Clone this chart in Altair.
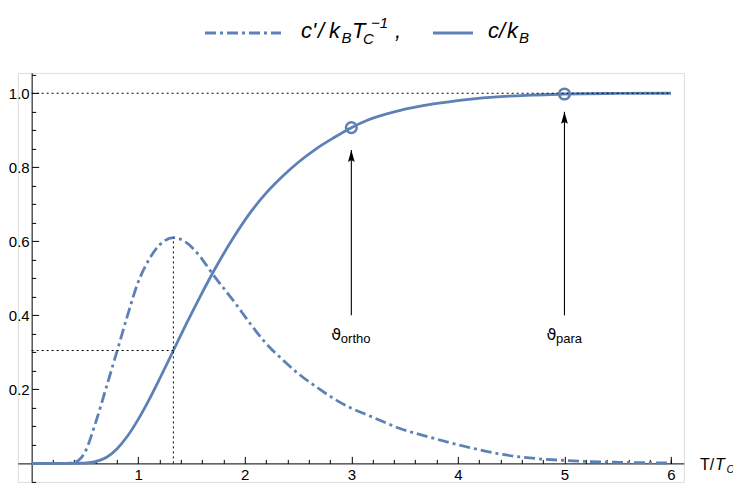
import altair as alt
import pandas as pd

# ---------------- data ----------------
T_SOLID = [0.0, 0.3, 0.45, 0.5, 0.6, 0.7, 0.8, 0.9, 1.0, 1.1, 1.2, 1.33, 1.45, 1.58, 1.7,
           1.9, 2.05, 2.2, 2.36, 2.5, 2.67, 2.83, 3.0, 3.15, 3.45, 3.77, 4.08, 4.4, 4.7,
           5.0, 5.5, 6.0]
C_SOLID = [0.0, 0.0, 0.0005, 0.001, 0.005, 0.016, 0.039, 0.074, 0.119, 0.171, 0.228, 0.305,
           0.376, 0.450, 0.515, 0.613, 0.677, 0.730, 0.777, 0.813, 0.850, 0.879, 0.907,
           0.927, 0.953, 0.971, 0.983, 0.991, 0.995, 0.998, 0.9995, 1.0]

T_DASH = [0.0, 0.3, 0.4, 0.5, 0.6, 0.7, 0.8, 0.9, 1.0, 1.1, 1.2, 1.33, 1.45, 1.58, 1.69,
          1.9, 2.05, 2.2, 2.36, 2.5, 2.67, 2.83, 3.0, 3.15, 3.45, 3.77, 4.08, 4.4, 4.7,
          5.0, 5.5, 6.0]
C_DASH = [0.0, 0.0, 0.003, 0.03, 0.11, 0.205, 0.302, 0.40, 0.49, 0.55, 0.59, 0.61, 0.597,
          0.559, 0.515, 0.437, 0.378, 0.324, 0.279, 0.243, 0.207, 0.176, 0.149, 0.131,
          0.095, 0.068, 0.045, 0.025, 0.014, 0.008, 0.003, 0.001]

X_MAJOR = [1, 2, 3, 4, 5, 6]
X_MINOR = [0.2, 0.4, 0.6, 0.8, 1.2, 1.4, 1.6, 1.8, 2.2, 2.4, 2.6, 2.8, 3.2, 3.4, 3.6, 3.8,
           4.2, 4.4, 4.6, 4.8, 5.2, 5.4, 5.6, 5.8, 6.0]
Y_MAJOR = [0.2, 0.4, 0.6, 0.8, 1.0]
Y_MINOR = [-0.05, 0.05, 0.1, 0.15, 0.25, 0.3, 0.35, 0.45, 0.5, 0.55, 0.65, 0.7, 0.75,
           0.85, 0.9, 0.95, 1.05]

PEAK_T = 1.33
PEAK_C = 0.61
HALF_C = 0.305
LIMIT_C = 1.0
T_END = 6.0

MARK_T = [3, 5]
MARK_C = [0.907, 0.998]
ARROW_BOTTOM = [0.40, 0.40]
ARROW_TIP = [0.847, 0.95]
LABEL_NAMES = ["ortho", "para"]
LABEL_V = 0.334

# ---------------- layout ----------------
BLUE = "#5E81B5"
FONT = "Liberation Sans"
X_DOM = [-0.13, 6.12]
Y_DOM = [-0.05, 1.055]
W = 666
H = 409
PAD_L = 9.8
PAD_T = 64.9
PAD_R = 725 - PAD_L - W
PAD_B = 475 - PAD_T - H
OX = 8 + PAD_L   # page x of plot origin
OY = 8 + PAD_T   # page y of plot origin

X0PX = (0 - X_DOM[0]) / (X_DOM[1] - X_DOM[0]) * W
Y0PX = (Y_DOM[1] - 0) / (Y_DOM[1] - Y_DOM[0]) * H

xs = alt.Scale(domain=X_DOM, nice=False, zero=False)
ys = alt.Scale(domain=Y_DOM, nice=False, zero=False)

common_axis = dict(grid=False, title=None, tickColor="black", domainColor="black",
                   labelColor="black", labelFont=FONT, tickWidth=1, domainWidth=1,
                   labelFlush=False)

ax_x_labels = alt.Axis(orient="bottom", offset=-(H - Y0PX), values=X_MAJOR, tickSize=0,
                       labelPadding=16, labelBaseline="alphabetic", labelFontSize=15,
                       domain=False, format="d", **common_axis)
ax_x_major = alt.Axis(orient="top", offset=-Y0PX, values=X_MAJOR, tickSize=7,
                      labels=False, domain=True, **common_axis)
ax_x_minor = alt.Axis(orient="top", offset=-Y0PX, values=X_MINOR, tickSize=4,
                      labels=False, domain=False, **common_axis)
ax_y_labels = alt.Axis(orient="left", offset=-X0PX, values=Y_MAJOR, tickSize=0,
                       labelPadding=2.5, labelFontSize=15, domain=False, format=".1f",
                       **common_axis)
ax_y_major = alt.Axis(orient="right", offset=-(W - X0PX), values=Y_MAJOR, tickSize=7,
                      labels=False, domain=True, **common_axis)
ax_y_minor = alt.Axis(orient="right", offset=-(W - X0PX), values=Y_MINOR, tickSize=4,
                      labels=False, domain=False, **common_axis)

solid_df = pd.DataFrame({"T": T_SOLID, "c": C_SOLID})
dash_df = pd.DataFrame({"T": T_DASH, "c": C_DASH})

LW = 2.8
DASH = [11, 4, 3, 4]

solid = alt.Chart(solid_df).mark_line(interpolate="monotone", color=BLUE, strokeWidth=LW).encode(
    x=alt.X("T:Q", scale=xs, axis=ax_x_labels),
    y=alt.Y("c:Q", scale=ys, axis=ax_y_labels),
)
dash = alt.Chart(dash_df).mark_line(interpolate="monotone", color=BLUE, strokeWidth=LW,
                                    strokeDash=DASH).encode(
    x=alt.X("T:Q", scale=xs, axis=None),
    y=alt.Y("c:Q", scale=ys, axis=None),
)

ref_df = pd.DataFrame({
    "x": [0, PEAK_T, 0],
    "x2": [T_END, PEAK_T, PEAK_T],
    "y": [LIMIT_C, 0, HALF_C],
    "y2": [LIMIT_C, PEAK_C, HALF_C],
})
refs = alt.Chart(ref_df).mark_rule(color="black", strokeWidth=1, strokeDash=[2, 3]).encode(
    x=alt.X("x:Q", scale=xs, axis=ax_x_major),
    x2="x2:Q",
    y=alt.Y("y:Q", scale=ys, axis=ax_y_major),
    y2="y2:Q",
)

mk_df = pd.DataFrame({"T": MARK_T, "c": MARK_C, "b": ARROW_BOTTOM, "tip": ARROW_TIP,
                      "name": LABEL_NAMES})
circles = alt.Chart(mk_df).mark_point(shape="circle", filled=False, size=115, strokeWidth=2.5,
                                      color=BLUE, opacity=1).encode(
    x=alt.X("T:Q", scale=xs, axis=ax_x_minor),
    y=alt.Y("c:Q", scale=ys, axis=ax_y_minor),
)
shafts = alt.Chart(mk_df).mark_rule(color="black", strokeWidth=1.1).encode(
    x=alt.X("T:Q", scale=xs, axis=None),
    y=alt.Y("b:Q", scale=ys, axis=None),
    y2=alt.Y2("tip:Q"),
)
heads = alt.Chart(mk_df).mark_point(shape="M0,0 L0.28,1 L0,0.85 L-0.28,1 Z", filled=True,
                                    size=576, color="black", strokeWidth=0, opacity=1).encode(
    x=alt.X("T:Q", scale=xs, axis=None),
    y=alt.Y("tip:Q", scale=ys, axis=None),
)

lbl_df = pd.DataFrame({"T": MARK_T, "v": [LABEL_V, LABEL_V], "name": LABEL_NAMES,
                       "theta": ["ϑ", "ϑ"]})


def lbl(row, field, dx, dy, size, font):
    return alt.Chart(lbl_df.iloc[[row]]).mark_text(
        align="left", baseline="alphabetic", font=font, fontSize=size, dx=dx, dy=dy,
        color="black").encode(
        x=alt.X("T:Q", scale=xs, axis=None), y=alt.Y("v:Q", scale=ys, axis=None),
        text=f"{field}:N")


theta_labels = [
    lbl(0, "theta", -20, 0, 16, "DejaVu Sans"),
    lbl(0, "name", -10.5, 3, 13, FONT),
    lbl(1, "theta", -18, 0, 16, "DejaVu Sans"),
    lbl(1, "name", -8.5, 3, 13, FONT),
]


def txt(s, px, py, size, italic=False):
    return alt.Chart(pd.DataFrame({"s": [s]})).mark_text(
        align="left", baseline="alphabetic", font=FONT, fontSize=size,
        fontStyle="italic" if italic else "normal", color="black",
    ).encode(text="s:N", x=alt.value(px - OX), y=alt.value(py - OY))


def sample(x1, x2, py, dashed):
    kw = dict(color=BLUE, strokeWidth=LW)
    if dashed:
        kw["strokeDash"] = DASH
    return alt.Chart(pd.DataFrame({"a": [0]})).mark_rule(**kw).encode(
        x=alt.value(x1 - OX), x2=alt.value(x2 - OX), y=alt.value(py - OY))


legend = [
    sample(205, 281, 33, True),
    txt("c'", 301, 37.5, 22, True),
    txt("/", 318, 37.5, 22, True),
    txt("k", 329, 37.5, 22, True),
    txt("B", 341.5, 43, 15, True),
    txt("T", 352, 37.5, 22, True),
    txt("C", 363, 44, 15, True),
    txt("−1", 371, 28, 15, True),
    txt(",", 395, 37.5, 22, True),
    sample(433, 473, 33, False),
    txt("c", 488, 37.5, 22, True),
    txt("/", 499, 37.5, 22, True),
    txt("k", 507, 37.5, 22, True),
    txt("B", 519, 43, 15, True),
]
xtitle = [
    txt("T/", 700, 470, 16),
    txt("T", 715, 470, 16, True),
    txt("C", 726.5, 473, 11, True),
]

chart = alt.layer(
    solid, dash, refs, circles, shafts, heads, *theta_labels,
    *legend, *xtitle,
).resolve_axis(x="independent", y="independent").properties(
    width=W, height=H,
    padding={"left": PAD_L, "top": PAD_T, "right": PAD_R, "bottom": PAD_B},
    autosize=alt.AutoSizeParams(type="none"),
).configure_view(stroke=None).configure(background="white")

chart.save("out.html", embed_options={"renderer": "svg", "actions": False})
